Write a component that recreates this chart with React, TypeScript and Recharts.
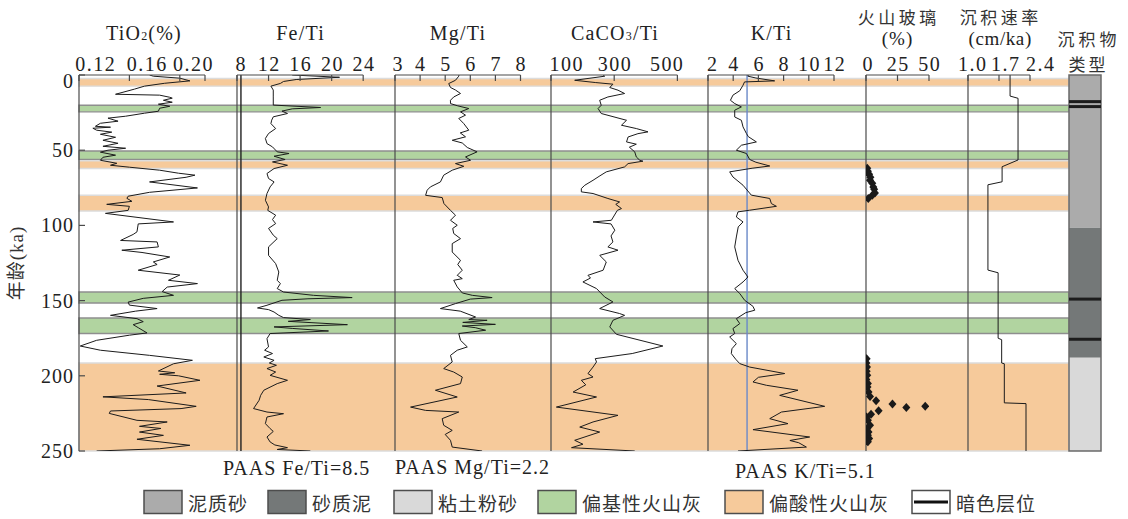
import React from 'react';
import {
  LineChart,
  Line,
  XAxis,
  YAxis,
  ReferenceArea,
  ReferenceLine,
  ScatterChart,
  Scatter,
  ZAxis,
} from 'recharts';

// ---------------- data (age in ka, value) ----------------
const ageTicks = [0, 50, 100, 150, 200, 250];

const tio2Ticks = [0.12, 0.16, 0.2, 0.22];
const feTicks = [8, 12, 16, 20, 24];
const mgTicks = [3, 4, 5, 6, 7, 8];
const caTicks = [100, 300, 500];
const kTicks = [2, 4, 6, 8, 10, 12];
const glassTicks = [0, 25, 50];
const sedTicks = [1.0, 1.7, 2.4];

const tio2 = [
  [0, 0.176], [0.8, 0.179], [2.1, 0.2], [3.9, 0.208], [5.5, 0.188], [7.4, 0.172], [9.4, 0.164],
  [12.8, 0.149], [13.4, 0.184], [14.8, 0.192], [15.4, 0.194], [16.8, 0.187], [18.1, 0.194],
  [19.4, 0.183], [20.8, 0.192], [22.1, 0.184], [24.1, 0.183], [25.4, 0.172], [27.4, 0.157],
  [28.7, 0.143], [30.7, 0.151], [32.1, 0.137], [34.1, 0.133], [34.7, 0.145], [35.4, 0.131],
  [36.7, 0.134], [38, 0.146], [39.4, 0.137], [41.4, 0.149], [43.4, 0.139], [45.4, 0.151],
  [47.4, 0.139], [48.7, 0.157], [50, 0.143], [51.3, 0.137], [53.3, 0.149], [54.7, 0.139],
  [56.7, 0.137], [58.7, 0.15], [60, 0.145], [61.3, 0.16], [63.3, 0.184], [65.3, 0.199],
  [66.6, 0.212], [68, 0.205], [71.1, 0.176], [75.1, 0.214], [78, 0.176], [80.6, 0.159],
  [82, 0.158], [84, 0.162], [86, 0.142], [87.3, 0.16], [90, 0.159], [92, 0.141], [97.7, 0.195],
  [99, 0.167], [104.3, 0.166], [106, 0.163], [110, 0.153], [111, 0.182], [114.3, 0.183],
  [116.5, 0.154], [118, 0.17], [121, 0.192], [124.3, 0.179], [126, 0.182], [129.8, 0.167],
  [133, 0.2], [136.5, 0.191], [138.7, 0.214], [141, 0.19], [144, 0.186], [146.5, 0.195],
  [148.5, 0.171], [151, 0.159], [153, 0.16], [155.3, 0.182], [157, 0.165], [159.8, 0.145],
  [162, 0.166], [164, 0.171], [166, 0.163], [168, 0.167], [171.5, 0.174], [173, 0.16],
  [176.4, 0.134], [180.2, 0.121], [183, 0.137], [186.4, 0.176], [189.7, 0.21], [192, 0.195],
  [196.8, 0.183], [198, 0.196], [199, 0.184], [200, 0.199], [203, 0.216], [206.8, 0.182],
  [211.4, 0.205], [214, 0.139], [215.8, 0.175], [220.3, 0.213], [221.8, 0.201], [223.4, 0.145],
  [225, 0.144], [229.6, 0.166], [230.7, 0.19], [233.6, 0.168], [235, 0.185], [237.4, 0.168],
  [239.6, 0.187], [242.2, 0.166], [246.2, 0.208], [248.5, 0.184], [250, 0.134],
];

const feTi = [
  [0, 15.0], [1.5, 21.0], [3, 15.5], [4.3, 13.9], [5.6, 13.5], [7.4, 12.3], [10, 12.6], [14, 12.6],
  [20, 12.6], [21.6, 18.6], [22.5, 15], [24, 13.7], [25.6, 14.4], [27.8, 12.6], [30, 12.4],
  [32.3, 12.3], [35.6, 12.9], [38.9, 12.0], [42.2, 11.6], [45.6, 11.8], [47.8, 12.5], [51.1, 13.1],
  [52.2, 14.6], [54, 12.7], [56.2, 14.1], [57.8, 12.5], [60, 14.4], [62.2, 12.7], [65.5, 11.8],
  [68.8, 12.0], [71.1, 12.7], [74.4, 12.2], [78.8, 11.8], [83.3, 11.6], [87.7, 12.0], [90, 11.9],
  [93.2, 12.9], [96.1, 12.5], [98.8, 12.9], [102, 12.0], [106.5, 12.6], [108.8, 13.1], [114.3, 12.0],
  [119.9, 12.0], [125.4, 12.9], [131, 13.3], [136.5, 13.1], [138.7, 13.5], [142, 13.1], [144.3, 13.9],
  [146.5, 17.7], [148, 22.6], [148.8, 17], [149.8, 13.7], [153.1, 11.8], [154.9, 10.6], [156, 12],
  [157.6, 12.7], [159.8, 13.3], [161.3, 13.9], [162.6, 17.3], [163.8, 14.5], [166, 22.0],
  [167.5, 12.7], [168.5, 15], [170.2, 19.6], [171.9, 12.2], [175.3, 11.8], [180.8, 12.0], [183, 11.5],
  [185.2, 12.5], [187.5, 11.4], [189.7, 12.7], [191.5, 12.1], [193, 13], [195.2, 11.8], [197.5, 12.9],
  [199.7, 12.2], [203, 14.4], [205.2, 13.1], [209.6, 11.4], [213, 11], [216.3, 10.8], [221.8, 10.1],
  [224.1, 11.8], [225.2, 13.9], [227.4, 11.8], [231.8, 11.6], [235.1, 12.2], [237, 12.6],
  [240.7, 11.8], [244, 12.2], [246, 12.8], [247.8, 14.4], [249, 13.1], [250, 17.3],
];

const mgTi = [
  [0, 5.55], [0.8, 5.54], [3.5, 5.41], [5.7, 5.14], [8.3, 5.21], [10, 5.41], [12.3, 5.61], [14.6, 5.34],
  [16.8, 5.21], [19, 5.21], [20.5, 5.5], [22.3, 5.94], [24.5, 5.61], [26.7, 5.81], [28.9, 5.54],
  [32.3, 5.74], [36.7, 5.94], [38.5, 5.6], [41.1, 5.81], [43.4, 5.28], [45.2, 5.68], [48.2, 5.88],
  [51.1, 6.27], [54.5, 5.81], [56.7, 6.01], [58.9, 5.41], [60.7, 5.74], [63.3, 5.28], [66.6, 4.94],
  [71.1, 4.81], [74.4, 4.41], [76.6, 4.28], [80, 4.22], [81.5, 4.88], [85.5, 4.95], [90, 5.21],
  [93.2, 5.41], [96.6, 5.21], [99.9, 5.48], [102, 5.3], [105.4, 5.34], [108.8, 5.61], [112.1, 5.28],
  [117.7, 5.28], [123.2, 5.61], [126, 5.5], [129.8, 5.68], [133.2, 5.48], [135.4, 5.68], [136.5, 5.34],
  [140.9, 5.48], [144.9, 5.68], [146.5, 6.08], [148, 6.87], [149, 6.0], [152, 5.41], [155.3, 4.81],
  [157, 5.6], [160.9, 6.21], [162.6, 5.94], [163.1, 6.67], [164.5, 5.7], [165.8, 7.0], [166.9, 5.68],
  [168, 6.2], [169.7, 6.61], [171.9, 5.54], [176.4, 5.61], [180.8, 5.88], [183, 5.48], [186.4, 5.21],
  [190.8, 5.28], [195.2, 4.94], [197.5, 5.34], [200.8, 5.68], [205.2, 5.61], [209.6, 4.61],
  [214.1, 5.48], [220.8, 3.62], [223, 4.22], [224.1, 5.54], [228.5, 4.88], [232.9, 4.94],
  [236.3, 5.28], [239, 5.0], [242.9, 5.21], [247.4, 5.28], [250, 6.47],
];

const caTi = [
  [0, 265], [0.8, 270], [3.5, 175], [5, 240], [6.1, 296], [8.3, 286], [10.1, 312], [12.3, 333],
  [14.6, 280], [16.8, 254], [20.1, 259], [22.3, 249], [25.6, 259], [30.1, 339], [33.4, 323],
  [35.6, 370], [37.8, 407], [39, 375], [41.2, 344], [44.5, 339], [46, 370], [48, 348], [51.1, 365],
  [54.5, 370], [56.7, 381], [57.3, 391], [58.9, 344], [61.1, 333], [64.4, 275], [67, 255], [70, 233],
  [73.3, 207], [75.5, 196], [77.7, 196], [78.8, 233], [82.1, 280], [84.4, 317], [86, 305], [88.8, 323],
  [90, 310], [96.6, 291], [97.7, 233], [99, 290], [103.2, 302], [107, 290], [111, 296], [114.3, 280],
  [116.5, 312], [119.9, 254], [124.3, 275], [129.8, 265], [133.2, 217], [135, 225], [137.6, 201],
  [142, 244], [147.6, 270], [150.9, 296], [155.3, 254], [158.6, 317], [159.8, 333], [163.1, 296],
  [167.5, 286], [172.4, 307], [180.2, 454], [185.2, 357], [188.6, 240], [190.8, 244], [194.2, 233],
  [198.5, 217], [200.8, 233], [203, 196], [206, 210], [210.8, 170], [214.1, 244], [220.8, 117],
  [226.3, 312], [230.7, 233], [234.1, 191], [237.4, 254], [242.9, 175], [245.5, 201], [247.8, 165],
  [250, 365],
];

const kTi = [
  [0, 5.2], [0.8, 5.17], [2, 5.8], [3.9, 7.29], [4.6, 4.9], [6.8, 4.78], [10.5, 4.52], [13.4, 3.98],
  [16.8, 3.78], [19, 4.12], [21.2, 4.65], [23.4, 4.12], [27.9, 4.12], [30.1, 4.65], [34.5, 4.78],
  [38.9, 5.05], [41, 5.2], [44.5, 5.84], [46.7, 4.65], [50, 4.25], [52.2, 5.05], [56.2, 5.31], [58, 5.8],
  [60.5, 6.9], [62, 5.5], [64.4, 3.72], [67.8, 3.98], [73.3, 4.78], [79.9, 5.44], [82.1, 6.9],
  [85.5, 7.03], [87.3, 7.43], [89.9, 5.31], [91, 4.38], [94.4, 4.25], [97.7, 4.78], [101, 4.4],
  [107.7, 4.25], [114.3, 4.12], [123.2, 4.38], [129.8, 4.78], [134.3, 5.17], [137.6, 4.78], [142, 4.12],
  [145.3, 4.52], [149.8, 4.91], [153.8, 5.57], [156.4, 5.71], [158, 5.0], [162, 4.25], [165.3, 4.52],
  [168.6, 3.98], [171.9, 4.12], [174.2, 3.72], [178.6, 4.25], [182, 3.9], [185.2, 3.85], [189, 4.2],
  [191.9, 4.52], [194.2, 5.31], [198.5, 8.09], [201, 6], [204.1, 5.57], [206.3, 6.63], [209.6, 9.14],
  [213, 7.69], [220.3, 11.26], [224.1, 7.83], [228.5, 6.9], [231.8, 8.35], [235.8, 5.57], [240.7, 10.07],
  [243, 8.5], [244.5, 9.2], [247.4, 9.81], [250, 4.38],
];

const glass = [
  [62, 1], [64, 1.5], [66, 2.5], [68, 3.5], [70, 3.2], [72, 5], [74.4, 5.8], [76, 6.5], [78.4, 7.1],
  [80, 5], [82.1, 1.8],
  [188.6, 0.5], [191.5, 0.3], [194.1, 0.8], [197, 0.5], [199.6, 1], [202.5, 0.3], [205.2, 1.5],
  [207.4, 1.2], [210.8, 2], [213.7, 3.2], [216.6, 8], [218.8, 21], [220.3, 47], [221, 32], [223.2, 10],
  [225.6, 4], [227.4, 0.4], [229.6, 1.5], [232.9, 3.2], [235.1, 1], [237.3, 2], [239.5, 1.5],
  [241.7, 2.5], [243.9, 1.5],
];

const sedRate = [
  [0, 1.95], [14, 1.95], [15.5, 2.13], [56.5, 2.13], [61, 1.77], [71, 1.77], [73, 1.45], [129.7, 1.45],
  [131.5, 1.68], [175, 1.68], [176, 1.76], [191.5, 1.76], [192, 1.82], [218, 1.82], [218.5, 2.31],
  [250, 2.31],
];

const sedimentLayers = [
  { from: 0, to: 101.5, kind: 'mudSand' },
  { from: 101.5, to: 188, kind: 'sandMud' },
  { from: 188, to: 250, kind: 'claySilt' },
];
const darkLayers = [17.7, 21, 149, 175.7];

const ashBands = [
  { from: 2.3, to: 7.4, kind: 'acid' },
  { from: 20.1, to: 24.5, kind: 'basic' },
  { from: 50.5, to: 56.2, kind: 'basic' },
  { from: 57.1, to: 62.2, kind: 'acid' },
  { from: 80, to: 90.4, kind: 'acid' },
  { from: 144.3, to: 151.6, kind: 'basic' },
  { from: 161.6, to: 171.9, kind: 'basic' },
  { from: 191.5, to: 250, kind: 'acid' },
];

const PAAS_FE = 8.5;
const PAAS_K = 5.1;

// ---------------- styles ----------------
const LATIN = '"Liberation Serif", "Times New Roman", "Noto Sans CJK SC", serif';
const CJK = '"Noto Sans CJK SC", "Liberation Serif", sans-serif';
const AX = '#4a4a4a';
const INK = '#222';
const LAYER_FILL: Record<string, string> = { mudSand: '#ababab', sandMud: '#747878', claySilt: '#d9d9d9' };
const BAND_FILL: Record<string, string> = { acid: '#f6ca9b', basic: '#b1d4a0' };
const BAND_STROKE: Record<string, string> = { acid: '#dcdcdc', basic: '#8e8e8e' };

const TOP = 75;
const BOTTOM = 451;
const H = 470;
const PAD = 30;
const AGE_DOMAIN: [number, number] = [0, 250];

const toRows = (pairs: number[][]) => pairs.map(([age, v]) => ({ age, v }));

function makeTopTick(fmt: (v: number) => string, dx: Record<string, number>) {
  return (props: any) => {
    const { x, y, payload } = props;
    const label = fmt(payload.value);
    const off = dx[label] ?? 0;
    return (
      <text x={x + off + 0.75} y={y} textAnchor="middle" fontFamily={LATIN} fontSize={20} letterSpacing={1.5} fill={INK}>
        {label}
      </text>
    );
  };
}

const AgeTick = (props: any) => {
  const { x, y, payload } = props;
  const extra = payload.value === 0 ? 6 : 0;
  return (
    <text x={x + 1} y={y + 7 + extra} textAnchor="end" fontFamily={LATIN} fontSize={20} letterSpacing={1} fill={INK}>
      {payload.value}
    </text>
  );
};

type PanelProps = {
  rows: { age: number; v: number }[];
  left: number;
  width: number;
  domain: [number, number];
  ticks: number[];
  fmt: (v: number) => string;
  dx?: Record<string, number>;
  ageLabels?: boolean;
  refX?: number;
  refColor?: string;
  scatter?: boolean;
};

function Panel({ rows, left, width, domain, ticks, fmt, dx = {}, ageLabels = false, refX, refColor, scatter }: PanelProps) {
  const ml = ageLabels ? left : PAD;
  // axes take 1px each (height / width), margins compensate so the plot area starts at (left, TOP)
  const margin = { top: TOP - 1, bottom: H - BOTTOM, left: ml - 1, right: PAD };
  const xAxis = (
    <XAxis
      type="number"
      dataKey="v"
      orientation="top"
      domain={domain}
      ticks={ticks}
      interval={0}
      allowDataOverflow
      height={1}
      tickSize={-6}
      tickMargin={10}
      tick={makeTopTick(fmt, dx)}
      axisLine={{ stroke: AX, strokeWidth: 1.2 }}
      tickLine={{ stroke: AX, strokeWidth: 1.2 }}
    />
  );
  const yAxis = (
    <YAxis
      type="number"
      dataKey="age"
      domain={AGE_DOMAIN}
      reversed={!!scatter}
      ticks={ageTicks}
      interval={0}
      allowDataOverflow
      width={1}
      tickSize={-6}
      tickMargin={12}
      tick={ageLabels ? AgeTick : false}
      axisLine={{ stroke: AX, strokeWidth: 1.2 }}
      tickLine={{ stroke: AX, strokeWidth: 1.2 }}
    />
  );
  return (
    <div style={{ position: 'absolute', left: left - ml, top: 0 }}>
      {scatter ? (
        <ScatterChart width={ml + width + PAD} height={H} margin={margin}>
          {xAxis}
          {yAxis}
          <ZAxis type="number" range={[50, 50]} />
          <Scatter
            data={rows}
            isAnimationActive={false}
            shape={(p: any) => (
              <path
                d={`M${p.cx},${p.cy - 4.5}L${p.cx + 4},${p.cy}L${p.cx},${p.cy + 4.5}L${p.cx - 4},${p.cy}Z`}
                fill="#1a1a1a"
              />
            )}
          />
        </ScatterChart>
      ) : (
        <LineChart width={ml + width + PAD} height={H} data={rows} layout="vertical" margin={margin}>
          {xAxis}
          {yAxis}
          {refX !== undefined && <ReferenceLine x={refX} stroke={refColor} strokeWidth={1.4} />}
          <Line
            type="linear"
            dataKey="v"
            stroke="#1b1b1b"
            strokeWidth={1}
            dot={false}
            activeDot={false}
            isAnimationActive={false}
          />
        </LineChart>
      )}
    </div>
  );
}

function BandsLayer() {
  const left = 79;
  const right = 1069;
  const rows = ashBands.map((b) => ({ age: b.from, v: 0 }));
  return (
    <div style={{ position: 'absolute', left: left - PAD, top: 0 }}>
      <LineChart
        width={right - left + 2 * PAD}
        height={H}
        data={rows}
        layout="vertical"
        margin={{ top: TOP, bottom: H - BOTTOM, left: PAD, right: PAD }}
      >
        <XAxis type="number" dataKey="v" hide domain={[0, 1]} allowDataOverflow />
        <YAxis type="number" dataKey="age" hide domain={AGE_DOMAIN} allowDataOverflow />
        {ashBands.map((b) => (
          <ReferenceArea
            key={b.from}
            y1={b.from}
            y2={b.to}
            fill={BAND_FILL[b.kind]}
            fillOpacity={1}
            stroke={BAND_STROKE[b.kind]}
            strokeWidth={1.4}
            ifOverflow="visible"
          />
        ))}
      </LineChart>
    </div>
  );
}

function SedimentColumn() {
  const left = 1069;
  const width = 32;
  const rows = sedimentLayers.map((l) => ({ age: l.from, v: 0 }));
  return (
    <div style={{ position: 'absolute', left: left - PAD, top: 0 }}>
      <LineChart
        width={width + 2 * PAD}
        height={H}
        data={rows}
        layout="vertical"
        margin={{ top: TOP, bottom: H - BOTTOM, left: PAD, right: PAD }}
      >
        <XAxis type="number" dataKey="v" hide domain={[0, 1]} allowDataOverflow />
        <YAxis type="number" dataKey="age" hide domain={AGE_DOMAIN} allowDataOverflow />
        {sedimentLayers.map((l) => (
          <ReferenceArea key={l.from} y1={l.from} y2={l.to} fill={LAYER_FILL[l.kind]} fillOpacity={1} stroke="none" ifOverflow="visible" />
        ))}
        {darkLayers.map((d) => (
          <ReferenceLine key={d} y={d} stroke="#1c1c1c" strokeWidth={3} />
        ))}
        <ReferenceArea y1={0} y2={250} fill="none" fillOpacity={0} stroke="#6a6a6a" strokeWidth={1.5} ifOverflow="visible" />
      </LineChart>
    </div>
  );
}

const legendItems = [
  { x: 144, kind: 'mudSand', label: '泥质砂' },
  { x: 268, kind: 'sandMud', label: '砂质泥' },
  { x: 394, kind: 'claySilt', label: '粘土粉砂' },
  { x: 538, kind: 'basic', label: '偏基性火山灰' },
  { x: 725, kind: 'acid', label: '偏酸性火山灰' },
  { x: 912, kind: 'dark', label: '暗色层位' },
];

function legendFill(kind: string) {
  if (kind === 'dark') return '#ffffff';
  return LAYER_FILL[kind] ?? BAND_FILL[kind];
}

function Overlay() {
  const latin = { fontFamily: LATIN, fill: INK } as const;
  const cjk = { fontFamily: CJK, fill: '#333' } as const;
  return (
    <svg width={1128} height={519} style={{ position: 'absolute', left: 0, top: 0, pointerEvents: 'none' }}>
      {/* panel titles */}
      <text x={144} y={40} textAnchor="middle" fontSize={20} letterSpacing={1.2} {...latin}>
        TiO<tspan fontSize={12}>2</tspan>(%)
      </text>
      <text x={300.6} y={40} textAnchor="middle" fontSize={20} letterSpacing={1.2} {...latin}>Fe/Ti</text>
      <text x={458} y={40} textAnchor="middle" fontSize={20} letterSpacing={1.2} {...latin}>Mg/Ti</text>
      <text x={615} y={40} textAnchor="middle" fontSize={20} letterSpacing={1.2} {...latin}>
        CaCO<tspan fontSize={12}>3</tspan>/Ti
      </text>
      <text x={771.6} y={40} textAnchor="middle" fontSize={20} letterSpacing={1.2} {...latin}>K/Ti</text>

      <text x={898.7} y={24} textAnchor="middle" fontSize={17} letterSpacing={3.5} {...cjk}>火山玻璃</text>
      <text x={897.5} y={44.5} textAnchor="middle" fontSize={19} letterSpacing={1} {...latin}>(%)</text>
      <text x={1000.7} y={24} textAnchor="middle" fontSize={17} letterSpacing={3.5} {...cjk}>沉积速率</text>
      <text x={1000.2} y={44.5} textAnchor="middle" fontSize={19} letterSpacing={0.6} {...latin}>(cm/ka)</text>
      <text x={1089} y={45.5} textAnchor="middle" fontSize={17} letterSpacing={4} {...cjk}>沉积物</text>
      <text x={1088.5} y={70.5} textAnchor="middle" fontSize={17} letterSpacing={3} {...cjk}>类型</text>

      {/* y title */}
      <text
        x={16}
        y={263}
        textAnchor="middle"
        dominantBaseline="central"
        fontSize={19}
        letterSpacing={1}
        transform="rotate(-90 16 263)"
        {...latin}
        fill="#333"
      >
        年龄(ka)
      </text>

      {/* PAAS notes */}
      <text x={223} y={475} fontSize={20} letterSpacing={1} {...latin}>PAAS Fe/Ti=8.5</text>
      <text x={395} y={474} fontSize={20} letterSpacing={1} {...latin}>PAAS Mg/Ti=2.2</text>
      <text x={735} y={478} fontSize={20} letterSpacing={1} {...latin}>PAAS K/Ti=5.1</text>

      {/* legend */}
      {legendItems.map((it) => (
        <g key={it.label}>
          <rect x={it.x} y={490.5} width={38} height={23} fill={legendFill(it.kind)} stroke="#4d4d4d" strokeWidth={1.5} />
          {it.kind === 'dark' && <line x1={it.x + 2} x2={it.x + 36} y1={502} y2={502} stroke="#111" strokeWidth={3} />}
          <text x={it.x + 44} y={510.5} fontSize={19} letterSpacing={1} {...cjk}>
            {it.label}
          </text>
        </g>
      ))}
    </svg>
  );
}

export default function App() {
  return (
    <div style={{ position: 'absolute', left: 0, top: 0, width: 1128, height: 519, background: '#fff', overflow: 'hidden' }}>
      <BandsLayer />
      <Panel
        rows={toRows(tio2)}
        left={79}
        width={126}
        domain={[0.12, 0.22]}
        ticks={tio2Ticks}
        fmt={(v) => (Math.abs(v - 0.22) < 1e-6 ? '' : v.toFixed(2))}
        dx={{ '0.12': 16, '0.16': 17, '0.20': 13 }}
        ageLabels
      />
      <Panel
        rows={toRows(feTi)}
        left={236.5}
        width={126.2}
        domain={[8, 24]}
        ticks={feTicks}
        fmt={(v) => String(v)}
        dx={{ '8': 3.5 }}
        refX={PAAS_FE}
        refColor="#222"
      />
      <Panel
        rows={toRows(mgTi)}
        left={394.5}
        width={125.5}
        domain={[3, 8]}
        ticks={mgTicks}
        fmt={(v) => String(v)}
        dx={{ '3': 2.5 }}
      />
      <Panel
        rows={toRows(caTi)}
        left={551.3}
        width={126.4}
        domain={[100, 500]}
        ticks={caTicks}
        fmt={(v) => String(v)}
        dx={{ '100': 15, '500': -11 }}
      />
      <Panel
        rows={toRows(kTi)}
        left={708.3}
        width={126}
        domain={[2, 12]}
        ticks={kTicks}
        fmt={(v) => String(v)}
        dx={{ '2': 4 }}
        refX={PAAS_K}
        refColor="#6a88c8"
      />
      <Panel
        rows={toRows(glass)}
        left={866}
        width={63}
        domain={[0, 50]}
        ticks={glassTicks}
        fmt={(v) => String(v)}
        dx={{ '0': 1.5 }}
        scatter
      />
      <Panel
        rows={toRows(sedRate)}
        left={968}
        width={62}
        domain={[1.0, 2.4]}
        ticks={sedTicks}
        fmt={(v) => v.toFixed(1)}
        dx={{ '1.0': 4, '1.7': 6, '2.4': 10 }}
      />
      <SedimentColumn />
      <Overlay />
    </div>
  );
}
